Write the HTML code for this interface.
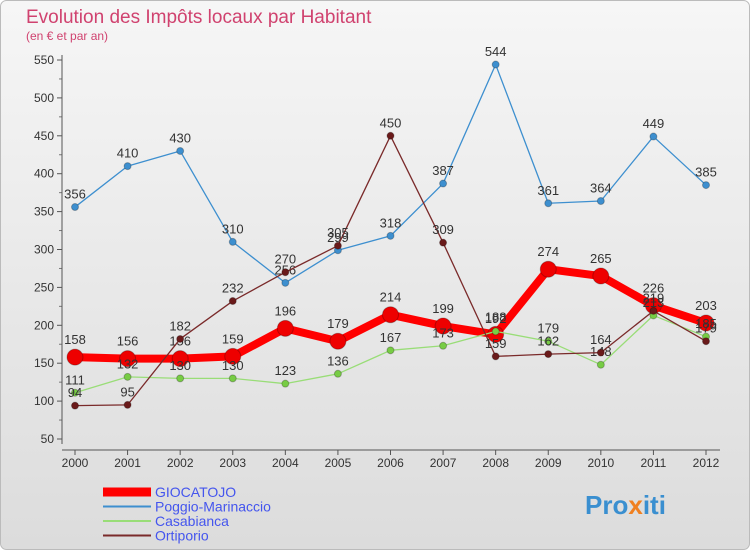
<!DOCTYPE html>
<html><head><meta charset="utf-8"><style>
body{margin:0;width:750px;height:550px;overflow:hidden;font-family:"Liberation Sans",sans-serif;}
svg text{font-family:"Liberation Sans",sans-serif;}
</style></head><body>
<svg id="c" width="750" height="550" xmlns="http://www.w3.org/2000/svg">
<defs><linearGradient id="bg" x1="0" y1="0" x2="0" y2="1"><stop offset="0" stop-color="#f6f6f6"/><stop offset="1" stop-color="#dcdcdc"/></linearGradient></defs>
<rect x="0.5" y="0.5" width="749" height="549" rx="6" fill="url(#bg)" stroke="#bbb"/>
<text x="26" y="23" font-size="19" fill="#d0426f">Evolution des Impôts locaux par Habitant</text>
<text x="26" y="40" font-size="12" fill="#d0426f">(en € et par an)</text>
<g id="axes"></g><g id="series"></g><g id="legend"></g>
<text x="585" y="514" font-size="26" font-weight="bold" fill="#3a8fd0">Pro<tspan fill="#f08020">x</tspan>iti</text>
</svg>
<script>
const years=[2000,2001,2002,2003,2004,2005,2006,2007,2008,2009,2010,2011,2012];
const yTicks=[50,100,150,200,250,300,350,400,450,500,550];
const seriesNames=["GIOCATOJO","Poggio-Marinaccio","Casabianca","Ortiporio"];
const gioc=[158,156,156,159,196,179,214,199,188,274,265,226,203];
const poggio=[356,410,430,310,256,299,318,387,544,361,364,449,385];
const casa=[111,132,130,130,123,136,167,173,192,179,148,213,185];
const orti=[94,95,182,232,270,305,450,309,159,162,164,219,179];
const NS="http://www.w3.org/2000/svg";
const X=i=>75+i*(706-75)/(years.length-1);
const Y=v=>439-(v-50)*(379/500);
function mk(t,a,p){const e=document.createElementNS(NS,t);for(const k in a)e.setAttribute(k,a[k]);p.appendChild(e);return e;}
const ax=document.getElementById('axes');
yTicks.forEach(v=>{
 const tk=mk('line',{x1:57,x2:62,y1:Y(v),y2:Y(v),stroke:'#555'},ax);
 
 
 const t=mk('text',{x:54,y:Y(v)+4,'text-anchor':'end','font-size':12,fill:'#333'},ax);t.textContent=v;
 
 
});
for(let v=75;v<550;v+=50){mk('line',{x1:59,x2:62,y1:Y(v),y2:Y(v),stroke:'#777'},ax);}
const ya=mk('line',{x1:62,x2:62,y1:Y(550)-5,y2:Y(50)+5,stroke:'#555'},ax);


const xa=mk('line',{x1:62,x2:720,y1:450,y2:450,stroke:'#555'},ax);


years.forEach((y,i)=>{
 mk('line',{x1:X(i),x2:X(i),y1:450,y2:455,stroke:'#555'},ax);
 const t=mk('text',{x:X(i),y:467,'text-anchor':'middle','font-size':12,fill:'#333'},ax);t.textContent=y;
 
 
});
const sg=document.getElementById('series');
const defs=[
 {d:gioc,c:'#ff0000',w:8,r:8,dot:'#ee0000',n:'giocatojo'},
 {d:poggio,c:'#3d8fcf',w:1.3,r:3.5,dot:'#3d8fcf',n:'poggio-marinaccio'},
 {d:casa,c:'#99dd77',w:1.3,r:3.5,dot:'#77cc44',n:'casabianca'},
 {d:orti,c:'#7a2a2a',w:1.3,r:3.5,dot:'#6a1a1a',n:'ortiporio'}];
defs.forEach(s=>{
 const g=mk('g',{},sg);
 
 
 const p=mk('polyline',{points:s.d.map((v,i)=>X(i)+','+Y(v)).join(' '),fill:'none',stroke:s.c,'stroke-width':s.w,'stroke-linejoin':'round'},g);
 
 
 s.d.forEach((v,i)=>{
  const c=mk('circle',{cx:X(i),cy:Y(v),r:s.r,fill:s.dot,stroke:'rgba(0,0,0,0.25)'},g);
  
  
  const t=mk('text',{x:X(i),y:Y(v)-(s.r+5),'text-anchor':'middle','font-size':13,fill:'#333'},g);t.textContent=v;
  
  
 });
});
const lg=document.getElementById('legend');
const lcols=['#ff0000','#3d8fcf','#99dd77','#7a2a2a'];
const lw=[9,2,2,2];
seriesNames.forEach((n,i)=>{
 const y=492+i*14.5;
 const g=mk('g',{},lg);
 
 
 mk('line',{x1:103,x2:151,y1:y,y2:y,stroke:lcols[i],'stroke-width':lw[i]},g);
 const t=mk('text',{x:155,y:y+5,'font-size':14,fill:'#4455ee'},g);t.textContent=n;
});
</script>
</body></html>
